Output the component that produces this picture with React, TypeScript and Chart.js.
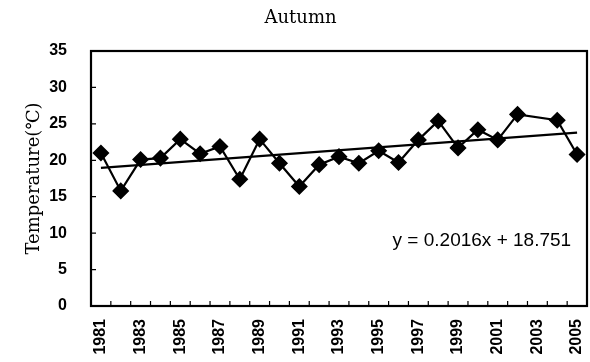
import React, { useEffect, useRef } from "react";
import { Chart, registerables } from "chart.js";

Chart.register(...registerables);

const years: string[] = [
  "1981", "1982", "1983", "1984", "1985", "1986", "1987", "1988", "1989", "1990",
  "1991", "1992", "1993", "1994", "1995", "1996", "1997", "1998", "1999", "2000",
  "2001", "2002", "2003", "2004", "2005",
];

const temperatures: (number | null)[] = [
  21.0, 15.8, 20.1, 20.3, 22.9, 20.9, 21.9, 17.4, 22.9, 19.6,
  16.4, 19.4, 20.5, 19.6, 21.3, 19.7, 22.8, 25.4, 21.7, 24.2,
  22.8, 26.3, null, 25.5, 20.8,
];

// trend line endpoints (y = 0.2016x + 18.751 at x = 1 and x = 25)
const trendStart = 18.95;
const trendEnd = 23.79;
const trendValues: (number | null)[] = years.map((_, i) =>
  i === 0 ? trendStart : i === years.length - 1 ? trendEnd : null
);

const yTicks: number[] = [0, 5, 10, 15, 20, 25, 30, 35];
const equationText = "y = 0.2016x + 18.751";
const titleText = "Autumn";
const yTitleText = "Temperature(\u2103)";

const framePlugin = {
  id: "frameAndTicks",
  afterDraw(chart: any) {
    const { ctx, chartArea, scales } = chart;
    const xs = scales.x;
    const ys = scales.y;
    ctx.save();
    ctx.strokeStyle = "#000";
    ctx.lineWidth = 1.2;
    ctx.beginPath();
    for (let i = 0; i <= years.length; i++) {
      const px = xs.getPixelForValue(i - 0.5);
      ctx.moveTo(px, chartArea.bottom);
      ctx.lineTo(px, chartArea.bottom - 5);
    }
    yTicks.forEach((v) => {
      const py = ys.getPixelForValue(v);
      ctx.moveTo(chartArea.left, py);
      ctx.lineTo(chartArea.left + 5, py);
    });
    ctx.stroke();
    ctx.lineWidth = 2.2;
    ctx.strokeRect(
      chartArea.left,
      chartArea.top,
      chartArea.right - chartArea.left,
      chartArea.bottom - chartArea.top
    );
    ctx.fillStyle = "#000";
    ctx.font = "19px 'Liberation Sans', Arial, sans-serif";
    ctx.textAlign = "right";
    ctx.textBaseline = "middle";
    ctx.fillText(equationText, xs.getPixelForValue(23.7), ys.getPixelForValue(8.9));
    ctx.restore();
  },
};

export default function App() {
  const canvasRef = useRef<HTMLCanvasElement | null>(null);

  useEffect(() => {
    document.body.style.margin = "0";
    const canvas = canvasRef.current;
    if (!canvas) return;
    const chart = new Chart(canvas, {
      type: "line",
      data: {
        labels: years,
        datasets: [
          {
            label: "Temperature",
            data: temperatures,
            borderColor: "#000",
            backgroundColor: "#000",
            borderWidth: 2.2,
            pointStyle: "rectRot",
            pointRadius: 7,
            pointBackgroundColor: "#000",
            pointBorderColor: "#000",
            spanGaps: true,
            tension: 0,
          },
          {
            label: "Trend",
            data: trendValues,
            borderColor: "#000",
            borderWidth: 2.2,
            pointRadius: 0,
            spanGaps: true,
            tension: 0,
          },
        ],
      },
      options: {
        animation: false,
        responsive: false,
        layout: { autoPadding: false, padding: { left: 14, right: 3, top: 0, bottom: 0 } },
        plugins: {
          legend: { display: false },
          tooltip: { enabled: false },
          title: {
            display: true,
            text: titleText,
            color: "#000",
            font: { family: "'DejaVu Serif', serif", size: 18, weight: "normal", lineHeight: 1.2 },
            padding: { top: 8, bottom: 21.4 },
          },
        },
        scales: {
          x: {
            type: "category",
            offset: true,
            grid: { display: false, drawTicks: false },
            border: { display: false },
            ticks: {
              autoSkip: false,
              maxRotation: 90,
              minRotation: 90,
              padding: 13,
              color: "#000",
              font: { family: "'Liberation Sans', Arial, sans-serif", size: 16, weight: "bold" },
              callback: (_v: any, i: number) => (i % 2 === 0 ? years[i] : ""),
            },
            afterFit: (scale: any) => {
              scale.height = 56;
              scale.paddingLeft = 0;
              scale.paddingRight = 0;
            },
          },
          y: {
            min: 0,
            max: 35,
            grid: { display: false, drawTicks: false },
            border: { display: false },
            afterBuildTicks: (scale: any) => {
              scale.ticks = yTicks.map((v) => ({ value: v }));
            },
            ticks: {
              padding: 24,
              color: "#000",
              font: { family: "'Liberation Sans', Arial, sans-serif", size: 16, weight: "bold" },
            },
            title: {
              display: true,
              text: yTitleText,
              color: "#000",
              font: { family: "'DejaVu Serif', serif", size: 18, weight: "normal", lineHeight: 1.2 },
              padding: { top: 10, bottom: 0 },
            },
            afterFit: (scale: any) => {
              scale.width = 77;
              scale.paddingTop = 0;
              scale.paddingBottom = 0;
            },
          },
        },
      },
      plugins: [framePlugin],
    });
    return () => chart.destroy();
  }, []);

  return (
    <div style={{ width: 590, height: 362, position: "relative" }}>
      <canvas ref={canvasRef} width={590} height={362} />
    </div>
  );
}
